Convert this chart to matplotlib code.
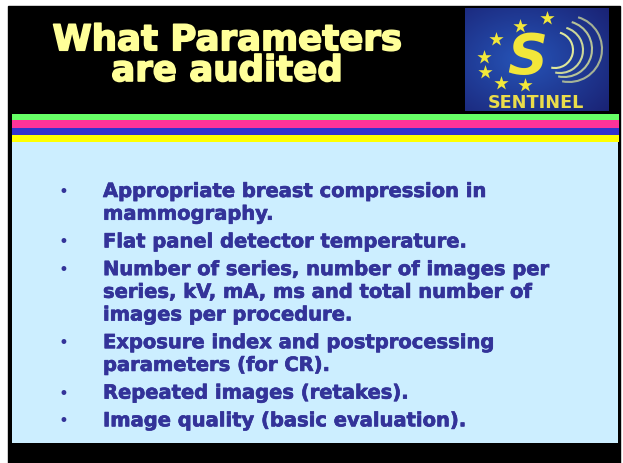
"""Slide: What Parameters are audited (SENTINEL)."""

import matplotlib

matplotlib.use("Agg")
import matplotlib.patheffects as pe
import matplotlib.pyplot as plt
import numpy as np
from matplotlib.patches import Arc, Rectangle

W, H = 623, 464

title_lines = ["What Parameters", "are audited"]

# each bullet item, already wrapped as on the slide
items = [
    ["Appropriate breast compression in", "mammography."],
    ["Flat panel detector temperature."],
    [
        "Number of series, number of images per",
        "series, kV, mA, ms and total number of",
        "images per procedure.",
    ],
    ["Exposure index and postprocessing", "parameters (for CR)."],
    ["Repeated images (retakes)."],
    ["Image quality (basic evaluation)."],
]

stripe_colors = ["#66ff66", "#ff3399", "#3333cc", "#ffff00"]
stripe_edges = [115, 121, 129, 136, 143]

# logo decoration
star_x = [547, 520, 496, 484, 485, 501, 525]
star_y = [19, 27, 40, 58, 73, 84, 86]
wave_cx = [555, 560, 564, 569]
wave_cy = [51, 51, 50, 50]
wave_r = [18, 23, 28, 33]

TITLE_COLOR = "#ffff99"
TEXT_COLOR = "#333399"
PANEL_COLOR = "#cceeff"

fig = plt.figure(figsize=(W / 100, H / 100), dpi=100)
ax = fig.add_axes([0, 0, 1, 1])
ax.set_xlim(0, W)
ax.set_ylim(H, 0)
ax.axis("off")

# slide frame
ax.add_patch(Rectangle((8, 7), 612, H - 7, color="black", zorder=0))
for i, color in enumerate(stripe_colors):
    ax.add_patch(
        Rectangle((12, stripe_edges[i]), 607, stripe_edges[i + 1] - stripe_edges[i],
                  color=color, lw=0, zorder=1)
    )
ax.add_patch(Rectangle((12, 143), 606, 301, color=PANEL_COLOR, lw=0, zorder=1))

# title, one text block so the two lines sit tight like the slide
heavy = [pe.withStroke(linewidth=1.2, foreground=TITLE_COLOR)]
ax.text(227, 82, "\n".join(title_lines), color=TITLE_COLOR, fontsize=25.6,
        fontweight="bold", family="DejaVu Sans", ha="center", va="baseline",
        multialignment="center", linespacing=0.88, path_effects=heavy)

# logo background with a soft radial glow
lx0, lx1, ly0, ly1 = 465, 609, 9, 112
gx, gy = np.meshgrid(np.linspace(0, 1, 150), np.linspace(0, 1, 110))
dist = np.clip(np.hypot((gx - 0.4) / 0.8, (gy - 0.5) / 0.8), 0, 1)
inner = np.array([0.15, 0.33, 0.72])
outer = np.array([0.10, 0.13, 0.45])
glow = inner * (1 - dist[..., None]) + outer * dist[..., None]
ax.imshow(glow, extent=[lx0, lx1, ly1, ly0], aspect="auto", zorder=2,
          interpolation="bilinear")

for cx, cy, r, alpha in zip(wave_cx, wave_cy, wave_r, [1.0, 0.9, 0.8, 0.7]):
    ax.add_patch(Arc((cx, cy), 2 * r, 2 * r, theta1=-74, theta2=102,
                     color="#dfe89a", lw=1.5, alpha=alpha, zorder=3))

ax.scatter(star_x, star_y, marker="*", s=115, color="#f2e83a", lw=0, zorder=4)
ax.text(527, 58, "S", color="#f2e63a", fontsize=40, fontweight="bold",
        style="italic", family="DejaVu Sans", ha="center", va="center", zorder=4)
ax.text(536, 108, "SENTINEL", color="#eadc4a", fontsize=12.7, fontweight="bold",
        family="DejaVu Sans", ha="center", va="baseline", zorder=4)

# bullet list
line_pitch, item_gap = 22.7, 27.7
baseline = 198.0
body_fx = [pe.withStroke(linewidth=0.5, foreground=TEXT_COLOR)]
for item in items:
    ax.text(63, baseline - 1, "\u2022", color=TEXT_COLOR, fontsize=12,
            ha="center", va="baseline")
    for k, line in enumerate(item):
        ax.text(103, baseline, line, color=TEXT_COLOR, fontsize=14.05,
                fontweight="bold", family="DejaVu Sans", va="baseline",
                path_effects=body_fx)
        baseline += line_pitch if k < len(item) - 1 else item_gap

fig.savefig("out.png", dpi=100, facecolor="white")
